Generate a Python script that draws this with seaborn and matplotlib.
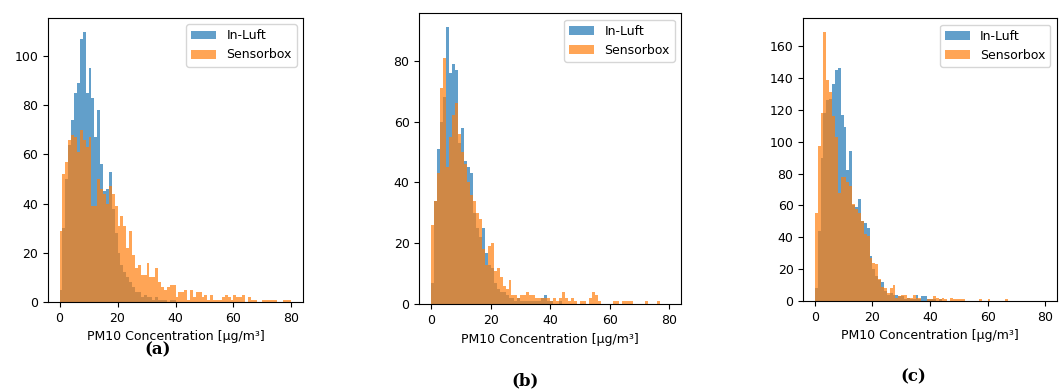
import numpy as np
import pandas as pd
import matplotlib
matplotlib.use("Agg")
import matplotlib.pyplot as plt
import seaborn as sns
from matplotlib.patches import Patch

# Bin edges (µg/m³), width 1
bin_edges = list(range(0, 81))

# Panel (a)
a_inluft = [5, 30, 50, 64, 74, 85, 89, 107, 110, 85,
            95, 83, 67, 78, 56, 45, 46, 53, 38, 28,
            20, 15, 12, 10, 8, 6, 4, 4, 2, 3,
            2, 2, 1, 2, 1, 1, 1, 0, 1, 1] + [0] * 40
a_sensorbox = [29, 52, 57, 66, 68, 67, 61, 70, 66, 63,
               67, 39, 39, 50, 46, 44, 40, 47, 44, 39,
               31, 35, 31, 22, 29, 19, 14, 15, 11, 11,
               16, 10, 10, 14, 8, 6, 5, 6, 7, 7,
               2, 4, 4, 5, 1, 5, 2, 4, 4, 2,
               3, 1, 3, 1, 1, 1, 2, 3, 2, 1,
               3, 2, 2, 3, 0, 2, 1, 1, 0, 0,
               1, 1, 1, 1, 1, 0, 0, 1, 1, 1]

# Panel (b)
b_inluft = [7, 34, 51, 60, 68, 91, 76, 79, 77, 53,
            58, 47, 45, 43, 30, 25, 22, 25, 17, 13,
            12, 7, 5, 4, 4, 3, 2, 2, 1, 2,
            1, 1, 1, 1, 1, 1, 1, 2, 3, 1,
            1, 0, 0, 1] + [0] * 36
b_sensorbox = [26, 34, 43, 71, 81, 45, 55, 62, 66, 56,
               50, 46, 40, 36, 34, 30, 28, 18, 13, 19,
               20, 11, 12, 9, 6, 5, 8, 3, 3, 2,
               3, 3, 4, 3, 3, 2, 2, 2, 2, 2,
               1, 2, 1, 2, 4, 2, 1, 2, 1, 0,
               1, 1, 0, 2, 4, 3, 1, 0, 0, 0,
               0, 1, 1, 0, 1, 1, 1, 1, 0, 0,
               0, 0, 1, 0, 0, 0, 1, 0, 0, 0]

# Panel (c)
c_inluft = [8, 44, 90, 118, 126, 127, 136, 145, 146, 117,
            109, 82, 94, 60, 59, 64, 50, 49, 46, 28,
            20, 16, 13, 12, 6, 4, 5, 4, 4, 3,
            3, 1, 2, 1, 1, 4, 1, 3, 3, 1,
            1, 1, 0, 1] + [0] * 36
c_sensorbox = [55, 97, 118, 169, 139, 131, 116, 103, 68, 78,
               78, 75, 72, 61, 58, 55, 50, 42, 41, 27,
               24, 23, 14, 9, 8, 5, 8, 10, 2, 3,
               4, 4, 2, 2, 4, 2, 2, 0, 0, 1,
               1, 3, 2, 1, 2, 1, 0, 2, 1, 1,
               1, 1, 0, 0, 0, 0, 0, 1, 0, 0,
               1, 0, 0, 0, 0, 0, 1, 0, 0, 0,
               0, 0, 0, 0, 0, 0, 0, 0, 0, 0]

series_labels = ["In-Luft", "Sensorbox"]
panel_labels = ["(a)", "(b)", "(c)"]
xlabel = "PM10 Concentration [µg/m³]"

plt.rcParams["font.size"] = 9

fig = plt.figure(figsize=(10.62, 3.9), dpi=100)
axes_rects = [
    [48 / 1062, 88 / 390, 255 / 1062, 284 / 390],
    [419.3 / 1062, 85.7 / 390, 261.7 / 1062, 291 / 390],
    [803.3 / 1062, 89 / 390, 253.4 / 1062, 282.7 / 390],
]
panel_label_pos = [(158 / 1062, 1 - 350 / 390), (525 / 1062, 1 - 381 / 390), (913 / 1062, 1 - 377 / 390)]

edges = np.array(bin_edges, dtype=float)
centers = (edges[:-1] + edges[1:]) / 2
data = [(a_inluft, a_sensorbox), (b_inluft, b_sensorbox), (c_inluft, c_sensorbox)]
colors = ["#1f77b4", "#ff7f0e"]

for rect, (s1, s2), plab, ppos in zip(axes_rects, data, panel_labels, panel_label_pos):
    ax = fig.add_axes(rect)
    for vals, col in zip((s1, s2), colors):
        df = pd.DataFrame({"conc": centers, "count": np.array(vals, dtype=float)})
        sns.histplot(data=df, x="conc", weights="count",
                     binwidth=1, binrange=(bin_edges[0], bin_edges[-1]),
                     color=col, alpha=0.7, linewidth=0, edgecolor="none", ax=ax)
    ax.set_xlabel(xlabel)
    ax.set_ylabel("")
    ax.set_xticks([0, 20, 40, 60, 80])
    handles = [Patch(facecolor=c, alpha=0.7, edgecolor="none") for c in colors]
    ax.legend(handles, series_labels, loc="upper right")
    fig.text(ppos[0], ppos[1], plab, ha="center", va="center",
             fontsize=12, fontweight="bold", family="DejaVu Serif")

fig.savefig("out.png", dpi=100)
